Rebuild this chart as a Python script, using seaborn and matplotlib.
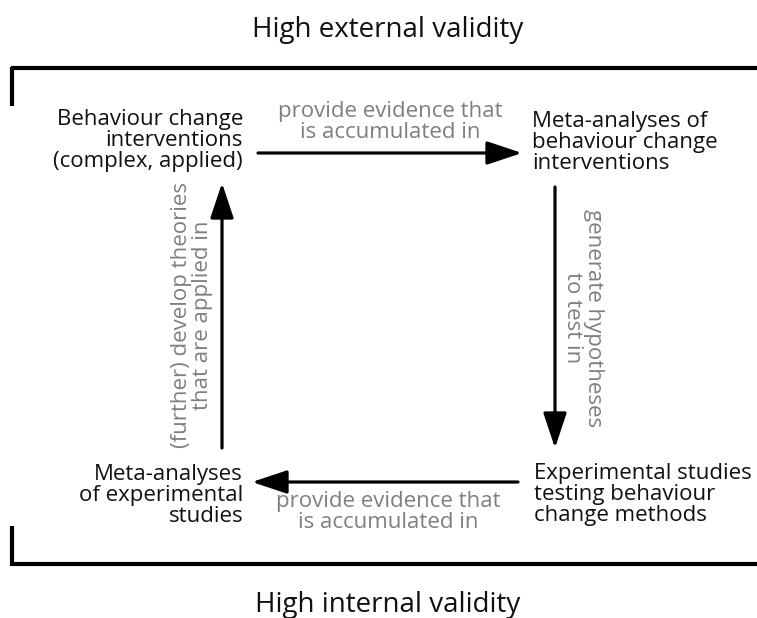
import matplotlib
matplotlib.use("Agg")
import matplotlib.pyplot as plt
import seaborn as sns

sns.set_theme(style="white")
plt.rcParams['font.family'] = ['Open Sans', 'DejaVu Sans']
plt.rcParams['text.color'] = '#111111'

# ---- content ----
top_label = "High external validity"
bottom_label = "High internal validity"
node_texts = [
    "Behaviour change\ninterventions\n(complex, applied)",
    "Meta-analyses of\nbehaviour change\ninterventions",
    "Experimental studies\ntesting behaviour\nchange methods",
    "Meta-analyses\nof experimental\nstudies",
]
edge_texts = [
    "provide evidence that\nis accumulated in",
    "generate hypotheses\nto test in",
    "provide evidence that\nis accumulated in",
    "(further) develop theories\nthat are applied in",
]

# ---- layout (pixel coordinates) ----
W, H = 757, 618
fig = plt.figure(figsize=(W / 100, H / 100), dpi=100)
ax = fig.add_axes([0, 0, 1, 1])
ax.set_xlim(0, W)
ax.set_ylim(H, 0)
ax.axis("off")

FS = 16
LS = 1.0
GRAY = "#7f7f7f"
TFS = 20

ax.text(388, 37, top_label, ha="center", va="baseline", fontsize=TFS)
ax.text(388, 612, bottom_label, ha="center", va="baseline", fontsize=TFS)

# frame
lw = 3.0
ax.plot([11, 757], [68, 68], color="black", lw=lw, solid_capstyle="butt")
ax.plot([12, 12], [66.5, 106], color="black", lw=lw, solid_capstyle="butt")
ax.plot([11, 757], [564, 564], color="black", lw=lw, solid_capstyle="butt")
ax.plot([12, 12], [526, 565.5], color="black", lw=lw, solid_capstyle="butt")

# nodes (y = baseline of last line)
ax.text(243, 167, node_texts[0], ha="right", va="baseline", fontsize=FS,
        linespacing=LS, multialignment="right")
ax.text(532, 169, node_texts[1], ha="left", va="baseline", fontsize=FS,
        linespacing=LS, multialignment="left")
ax.text(534, 521, node_texts[2], ha="left", va="baseline", fontsize=FS,
        linespacing=LS, multialignment="left")
ax.text(243, 522, node_texts[3], ha="right", va="baseline", fontsize=FS,
        linespacing=LS, multialignment="right")

# arrows
ap = dict(arrowstyle="-|>,head_length=0.9,head_width=0.3", lw=2.3,
          color="black", shrinkA=0, shrinkB=0, mutation_scale=24)
ax.annotate("", xy=(522, 153), xytext=(258, 153), arrowprops=ap)
ax.annotate("", xy=(555, 448), xytext=(555, 187), arrowprops=ap)
ax.annotate("", xy=(252, 482), xytext=(518, 482), arrowprops=ap)
ax.annotate("", xy=(222, 183), xytext=(222, 448), arrowprops=ap)

# edge labels
ax.text(390, 138, edge_texts[0], ha="center", va="baseline", fontsize=FS,
        color=GRAY, linespacing=LS, multialignment="center")
ax.text(583, 318, edge_texts[1], ha="center", va="center", fontsize=FS,
        color=GRAY, linespacing=LS, multialignment="center", rotation=-90)
ax.text(388, 528, edge_texts[2], ha="center", va="baseline", fontsize=FS,
        color=GRAY, linespacing=LS, multialignment="center")
ax.text(192, 315, edge_texts[3], ha="center", va="center", fontsize=FS,
        color=GRAY, linespacing=LS, multialignment="center", rotation=90)

fig.savefig("out.png", dpi=100, facecolor="white")
